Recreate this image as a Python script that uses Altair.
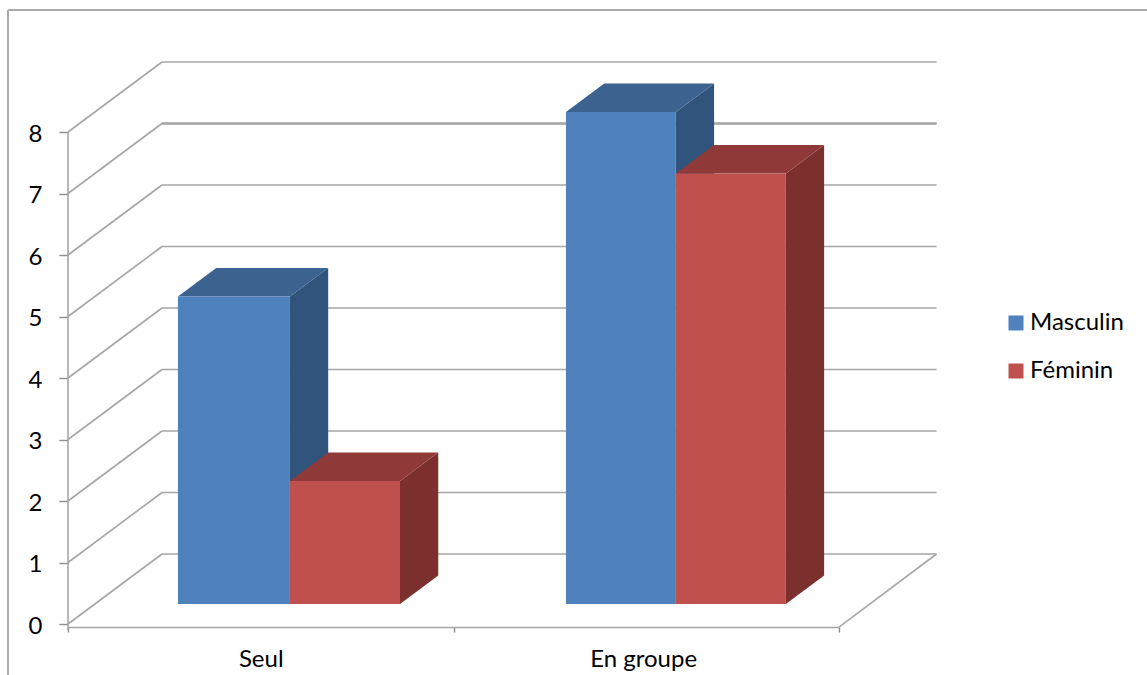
import altair as alt
import pandas as pd

# Chart values
categories = ["Seul", "En groupe"]
series_names = ["Masculin", "Féminin"]
masculin = [5, 8]
feminin = [2, 7]
y_ticks = [0, 1, 2, 3, 4, 5, 6, 7, 8]

# Colours per series: front, top and side faces
front_colors = ["#4F81BD", "#C0504D"]
top_colors = ["#3C6290", "#8F3A38"]
side_colors = ["#31547D", "#7B302E"]
GRID = "#A6A6A6"
FONT = "Lato"
TEXT = "#000000"
FONT_SIZE = 24

# Oblique projection: a point at depth d (0 front, 1 back wall) moves right and up
DEPTH_X = 0.2438
DEPTH_Y = 1.138
BAR_D0 = 0.286
BAR_D1 = 0.693
WALL_RIGHT = 2.253
# Bar edges within each category slot: left, shared, right
EDGES = [[0.2155, 0.506, 0.7915], [0.222, 0.507, 0.7925]]


def px(x, d):
    return x + d * DEPTH_X


def py(v, d):
    return v + d * DEPTH_Y


x_scale = alt.Scale(domain=[0, 2], nice=False, zero=False)
y_scale = alt.Scale(domain=[0, 8], nice=False, zero=False)

# Labels sit between the category ticks
label_positions = [0.5, 1.492]
x_label_expr = (
    f"datum.value=={label_positions[0]}?'{categories[0]}':"
    f"datum.value=={label_positions[1]}?'{categories[1]}':''"
)
x_axis = alt.Axis(
    values=[0, label_positions[0], 1, label_positions[1], 2],
    labelExpr=x_label_expr,
    offset=3,
    grid=False,
    domainColor=GRID,
    domainWidth=1.6,
    tickColor="#8C8C8C",
    tickWidth=1.4,
    tickSize=5,
    tickOpacity={"condition": {"test": "datum.value % 1 != 0", "value": 0}, "value": 1},
    labelFont=FONT,
    labelFontSize=FONT_SIZE,
    labelColor=TEXT,
    labelPadding=15,
    labelOverlap=False,
    labelFlush=False,
)
y_axis = alt.Axis(
    values=y_ticks,
    grid=False,
    domain=False,
    tickColor="#8C8C8C",
    tickWidth=1.4,
    tickSize=9,
    labelFont=FONT,
    labelFontSize=FONT_SIZE,
    labelColor=TEXT,
    labelPadding=17,
    labelOffset=2,
)
NX = alt.X("x:Q", scale=x_scale, axis=x_axis, title=None)
NY = alt.Y("y:Q", scale=y_scale, axis=y_axis, title=None)

# Back wall and side wall lines
wall = pd.DataFrame(
    [{"x": 0, "x2": DEPTH_X, "y": v, "y2": py(v, 1)} for v in y_ticks]
    + [{"x": DEPTH_X, "x2": WALL_RIGHT, "y": py(v, 1), "y2": py(v, 1)} for v in y_ticks]
    + [{"x": 2, "x2": WALL_RIGHT, "y": -0.05, "y2": DEPTH_Y}]
)
wall_lines = alt.Chart(wall).mark_rule(color=GRID, strokeWidth=1.6).encode(
    x=NX, x2="x2:Q", y=NY, y2="y2:Q"
)
heavy = pd.DataFrame([{"x": DEPTH_X, "x2": WALL_RIGHT, "y": py(7, 1), "y2": py(7, 1)}])
heavy_line = alt.Chart(heavy).mark_rule(color=GRID, strokeWidth=2.6).encode(
    x=NX, x2="x2:Q", y=NY, y2="y2:Q"
)

# Vertical axis line, running just below the zero tick to meet the horizontal axis
axis_line = alt.Chart(pd.DataFrame([{"x": 0, "y": -0.1, "y2": 8}])).mark_rule(
    color=GRID, strokeWidth=1.6
).encode(x=NX, y=NY, y2="y2:Q")


def bar_layers(name, values, left_i, right_i, idx):
    """Side, top and front faces of one series' bars."""
    side_rows, top_rows, front_rows = [], [], []
    for c, v in enumerate(values):
        xl, xr = c + EDGES[c][left_i], c + EDGES[c][right_i]
        for d in (BAR_D0, BAR_D1):
            side_rows.append({"bar": c, "x": px(xr, d), "y": py(0, d), "y2": py(v, d)})
            top_rows.append({"bar": c, "x": px(xl, d), "x2": px(xr, d), "y": py(v, d)})
        front_rows.append({
            "series": name,
            "x": px(xl, BAR_D0),
            "x2": px(xr, BAR_D0),
            "y": py(0, BAR_D0),
            "y2": py(v, BAR_D0),
        })
    side = alt.Chart(pd.DataFrame(side_rows)).mark_area(
        color=side_colors[idx], orient="vertical"
    ).encode(x=NX, y=NY, y2="y2:Q", detail="bar:N")
    top = alt.Chart(pd.DataFrame(top_rows)).mark_area(
        color=top_colors[idx], orient="horizontal"
    ).encode(x=NX, x2="x2:Q", y=NY, detail="bar:N")
    front = alt.Chart(pd.DataFrame(front_rows)).mark_rect().encode(
        x=NX,
        x2="x2:Q",
        y=NY,
        y2="y2:Q",
        color=alt.Color(
            "series:N",
            scale=alt.Scale(domain=series_names, range=front_colors),
            sort=series_names,
            title=None,
            legend=alt.Legend(
                orient="none",
                legendX=936,
                legendY=179,
                padding=0,
                symbolType="square",
                symbolSize=225,
                symbolStrokeWidth=0,
                labelFont=FONT,
                labelFontSize=FONT_SIZE,
                labelColor=TEXT,
                labelOffset=2,
                rowPadding=24,
            ),
        ),
    )
    return [side, top, front]


# Outer chart frame, open towards the page edges
frame_top = alt.Chart(pd.DataFrame({"a": [0]})).mark_rule(color="#ABABAB", strokeWidth=2).encode(
    x=alt.value(-60), x2=alt.value(1079), y=alt.value(-122)
)
frame_left = alt.Chart(pd.DataFrame({"a": [0]})).mark_rule(color="#ABABAB", strokeWidth=2).encode(
    x=alt.value(-60), y=alt.value(-122), y2=alt.value(551)
)

chart = (
    alt.layer(
        frame_top,
        frame_left,
        wall_lines,
        heavy_line,
        axis_line,
        *bar_layers(series_names[0], masculin, 0, 1, 0),
        *bar_layers(series_names[1], feminin, 1, 2, 1),
    )
    .properties(
        width=771,
        height=492,
        padding={"left": 68, "top": 132, "right": 308, "bottom": 51},
        autosize=alt.AutoSizeParams(type="none"),
        background="#FFFFFF",
    )
    .configure_view(stroke=None)
)

chart.save("out.html", embed_options={"renderer": "svg", "actions": False})
